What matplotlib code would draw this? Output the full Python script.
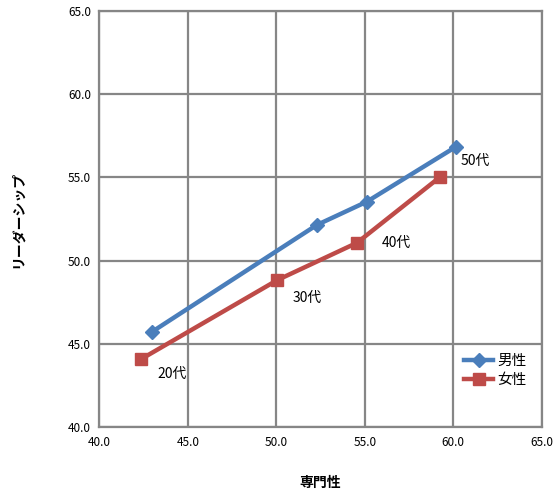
import numpy as np
import matplotlib
matplotlib.use('Agg')
import matplotlib.pyplot as plt

plt.rcParams['font.family'] = ['Noto Sans CJK JP', 'DejaVu Sans']

# data
ages = ['20代', '30代', '40代', '50代']
male_x = [42.98, 52.29, 55.12, 60.16]
male_y = [45.73, 52.14, 53.54, 56.84]
female_x = [42.36, 50.07, 54.56, 59.23]
female_y = [44.09, 48.84, 51.07, 55.00]
ticks = [40, 45, 50, 55, 60, 65]

blue = '#4A7EBB'
red = '#BE4B48'
grid = '#868686'

fig = plt.figure(figsize=(5.54, 4.96), dpi=100)
ax = fig.add_axes([0.1792, 0.1385, 0.7986, 0.8399])

ax.plot(male_x, male_y, color=blue, lw=3.2, marker='D', ms=7, label='男性', zorder=3)
ax.plot(female_x, female_y, color=red, lw=3.2, marker='s', ms=8.5, label='女性', zorder=3)

# data labels (age groups): 20-40 next to female points, 50 next to male
offsets = [(12, -11), (11, -13), (18, 0), (3, -10)]
for i, lab in enumerate(ages):
    if i < 3:
        px, py = female_x[i], female_y[i]
    else:
        px, py = male_x[i], male_y[i]
    dx, dy = offsets[i]
    ax.annotate(lab, (px, py), xytext=(dx, dy), textcoords='offset points',
                fontsize=10, ha='left', va='center')

ax.set_xlim(40, 65)
ax.set_ylim(40, 65)
ax.set_xticks(ticks)
ax.set_yticks(ticks)
ax.set_xticklabels([f'{t:.1f}' for t in ticks], fontsize=8.5)
ax.set_yticklabels([f'{t:.1f}' for t in ticks], fontsize=8.5)
ax.tick_params(length=0, pad=6)
ax.grid(True, color=grid, lw=1.6)
ax.set_axisbelow(True)
for s in ax.spines.values():
    s.set_color(grid)
    s.set_linewidth(1.6)

ax.set_xlabel('専門性', fontsize=10, fontweight='bold', labelpad=20)
ax.set_ylabel('リーダーシップ', fontsize=10, fontweight='bold', labelpad=31)

leg = ax.legend(loc='lower right', bbox_to_anchor=(0.995, 0.065), frameon=False,
                fontsize=10.5, handlelength=2.0, handletextpad=0.25, labelspacing=0.35)

fig.savefig('out.png', dpi=100, facecolor='white')
